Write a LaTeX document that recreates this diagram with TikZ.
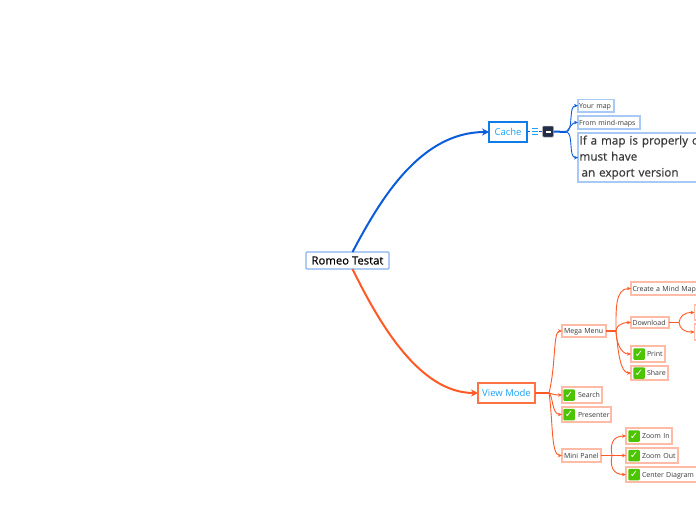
\documentclass[tikz,border=0pt]{standalone}
\usepackage{fontspec}
\setmainfont{Open Sans}
\newfontfamily\symf{DejaVu Sans}
\newfontfamily\medf[FakeBold=0.4]{Open Sans}
\usetikzlibrary{arrows.meta}
\definecolor{bl}{HTML}{0A5CD8}
\definecolor{blL}{HTML}{A8C8F5}
\definecolor{og}{HTML}{FF5A26}
\definecolor{ogL}{HTML}{FFBBA6}
\definecolor{cy}{HTML}{1AA3F5}
\definecolor{tx}{HTML}{3A3A3A}
\definecolor{chkg}{HTML}{4CC400}
\tikzset{
 bx/.style={draw,anchor=west,inner sep=0pt,outer sep=0pt,align=left,fill=white,text=tx,font=\fontsize{7}{8}\selectfont},
 leafb/.style={bx,draw=blL,line width=1.1pt},
 leafo/.style={bx,draw=ogL,line width=1.1pt},
 mainb/.style={bx,draw=bl!55!cy,line width=1.3pt,text=cy,align=center,font=\fontsize{9.5}{10}\selectfont},
 maino/.style={bx,draw=og!85!white,line width=1.3pt,text=cy,align=center,font=\fontsize{9.5}{10}\selectfont},
 chk/.style={anchor=center,rounded corners=1pt,fill=chkg,inner sep=0pt,minimum size=11.5pt,text=white,font=\symf\fontsize{10}{10}\selectfont},
 lb/.style={draw=bl,fill=none,line width=.9pt,-{Stealth[length=4pt,width=3.5pt]}},
 lo/.style={draw=og,fill=none,line width=.9pt,-{Stealth[length=4pt,width=3.5pt]}},
}
% name, x0, y0, x1, y1, style, left pad, text
\newcommand{\bxx}[8]{%
 \pgfmathsetmacro{\bxw}{#4-#2}\pgfmathsetmacro{\bxh}{#5-#3}\pgfmathsetmacro{\bxm}{(#3+#5)/2}%
 \node[#6,minimum height=\bxh pt,text width=\bxw pt,align=left,
   inner xsep=0pt] (#1) at (#2,\bxm) {\hspace*{#7pt}\raisebox{-1pt}[5pt][1.5pt]{#8}};}
\begin{document}
\begin{tikzpicture}[x=1pt,y=-1pt]
\useasboundingbox (0,0) rectangle (696,520);
\clip (0,0) rectangle (696,520);
\fill[white] (0,0) rectangle (696,520);

% nodes
\node[bx,draw=blL!80!bl,line width=1.2pt,rounded corners=1pt,minimum width=83pt,minimum height=17pt,align=center,text=black,font=\medf\fontsize{11.3}{11}\selectfont] (root) at (306,260.5) {Romeo Testat};
\node[mainb,minimum width=38pt,minimum height=20pt] (cache) at (489,132) {Cache};
\node[maino,minimum width=57pt,minimum height=20pt] (view) at (478,393) {View Mode};

\node[anchor=center,fill={rgb,255:red,35;green,45;blue,70},draw=gray!60,line width=.5pt,rounded corners=1pt,minimum size=11pt,inner sep=0pt,text=white,font=\symf\fontsize{5}{5}\selectfont] (ico) at (548,131.5) {\rule{5pt}{2pt}};

\bxx{ymap}{578}{99.5}{614}{112}{leafb}{1}{Your map}
\bxx{fmm}{578}{116}{640}{129}{leafb}{1}{From mind-maps}
\node[bx,draw=blL,line width=1.1pt,anchor=north west,minimum height=49pt,text width=200pt,inner xsep=1.5pt,inner ysep=0pt,text=tx,font=\medf\fontsize{11.7}{16}\selectfont] (big) at (578,133) {If a map is properly configured it\\must have\\\hspace*{2pt}an export version};

\bxx{mega}{562}{325}{606}{337}{leafo}{2}{Mega Menu}
\bxx{create}{631}{282}{730}{295}{leafo}{1.5}{Create a Mind Map}
\bxx{dl}{631}{317}{669}{328}{leafo}{1.5}{Download}
\bxx{uone}{694.5}{305}{740}{320}{leafo}{1}{}
\bxx{utwo}{694.5}{324}{740}{340}{leafo}{1}{}
\bxx{print}{631}{346}{665}{362}{leafo}{16}{Print}
\bxx{share}{631}{366}{668}{380}{leafo}{16}{Share}
\bxx{search}{562}{387}{602}{403}{leafo}{16}{Search}
\bxx{pres}{562}{407}{611}{422}{leafo}{16}{Presenter}
\bxx{mini}{562}{449}{601}{462}{leafo}{2}{Mini Panel}
\bxx{zin}{626}{428}{672}{444}{leafo}{16}{Zoom In}
\bxx{zout}{626}{448}{678}{463}{leafo}{16}{Zoom Out}
\bxx{cd}{626}{467}{730}{482}{leafo}{16}{Center Diagram}

% check icons
\node[chk] (c1) at (639,354) {✓};
\node[chk] (c2) at (639,373) {✓};
\node[chk] (c3) at (569,395) {✓};
\node[chk] (c4) at (569,414.5) {✓};
\node[chk] (c5) at (634,436) {✓};
\node[chk] (c6) at (634,455.5) {✓};
\node[chk] (c7) at (634,474.5) {✓};

% list icon
\foreach \yy in {128.5,131.5,134.5} \fill[cy] (531.5,\yy-.5) rectangle (537.5,\yy+.5);
\fill[bl] (528,130.8) rectangle (530,132.2);
\fill[bl] (539,130.8) rectangle (541.5,132.2);

% main connectors
\draw[draw=bl,line width=2pt,-{Stealth[length=7pt,width=7pt,fill=bl]}] ([xshift=5pt]root.north) .. controls (380,200) and (420,132) .. (cache.west);
\draw[draw=og,line width=2pt,-{Stealth[length=7pt,width=7pt,fill=og]}] ([xshift=5pt]root.south) .. controls (380,325) and (420,393) .. (view.west);

% blue branches
\coordinate (bj) at (566,132);
\draw[draw=bl,line width=2pt] (ico.east) -- (bj);
\draw[lb] (bj) .. controls (574,131) and (568,105.5) .. (ymap.west);
\draw[lb] (bj) .. controls (570,128) and (572,122.5) .. (fmm.west);
\draw[lb] (bj) .. controls (574,132) and (568,158) .. (big.west);

% orange branches
\coordinate (mj) at (616,331);
\draw[draw=og,line width=1.6pt] (mega.east) -- (mj);
\draw[lo] (mj) .. controls (616,310) and (615,288.5) .. (create.west);
\draw[lo] (mj) .. controls (616,327) and (620,322.5) .. (dl.west);
\draw[lo] (mj) .. controls (616,340) and (620,354) .. (print.west);
\draw[lo] (mj) .. controls (618,350) and (620,373) .. (share.west);
\coordinate (dj) at (679,322.5);
\draw[draw=og,line width=1.2pt] (dl.east) -- (dj);
\draw[lo] (dj) .. controls (680,316) and (684,312.5) .. (uone.west);
\draw[lo] (dj) .. controls (680,329) and (684,332) .. (utwo.west);

\coordinate (vj) at (549,393);
\draw[draw=og,line width=1.6pt] (view.east) -- (vj);
\draw[lo] (vj) .. controls (556,365) and (553,331) .. (mega.west);
\draw[lo] (vj) .. controls (552,394) and (555,395) .. (search.west);
\draw[lo] (vj) .. controls (553,396) and (552,414.5) .. (pres.west);
\draw[lo] (vj) .. controls (553,420) and (551,455.5) .. (mini.west);
\coordinate (zj) at (612,455.5);
\draw[draw=og,line width=1.5pt] (mini.east) -- (zj);
\draw[lo] (zj) .. controls (610,445) and (612,436) .. (zin.west);
\draw[lo,line width=1.1pt] (zj) -- (zout.west);
\draw[lo] (zj) .. controls (610,465) and (612,474.5) .. (cd.west);
\end{tikzpicture}
\end{document}
